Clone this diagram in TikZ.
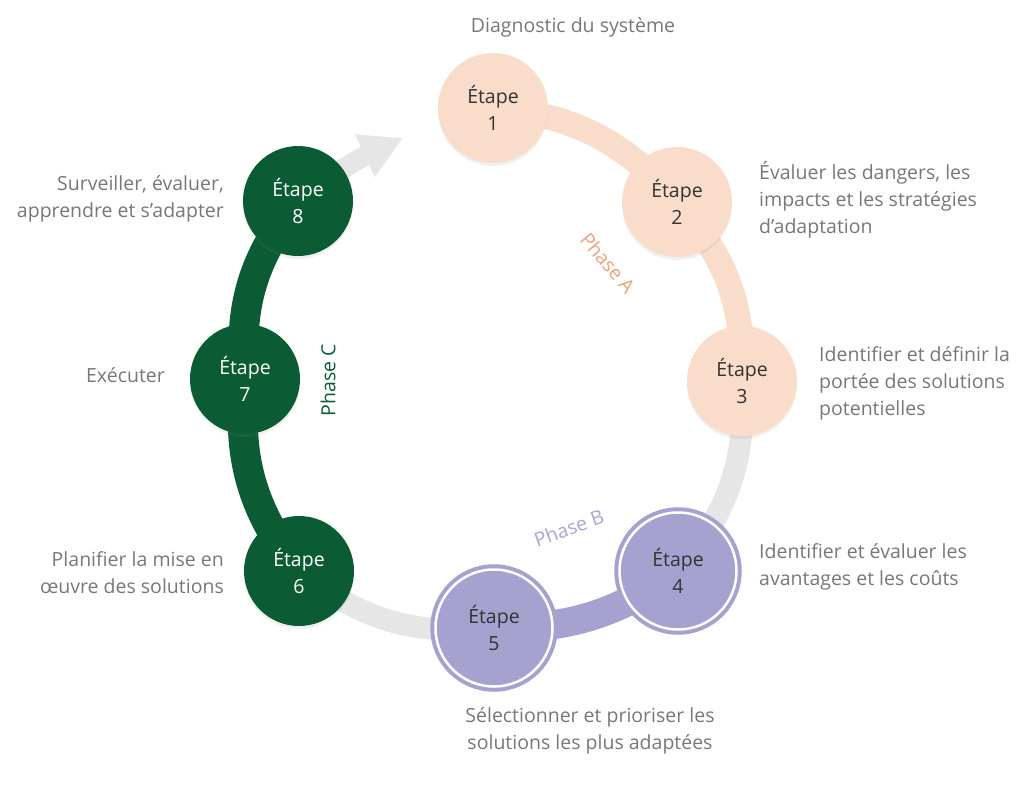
\documentclass[tikz,border=0pt]{standalone}
\usepackage{fontspec}
\setmainfont{Open Sans}
\usetikzlibrary{arrows.meta,shadows}
\pgfdeclarelayer{bg}
\pgfsetlayers{bg,main}
\definecolor{peach}{HTML}{FADCCB}
\definecolor{peachtxt}{HTML}{EBA27E}
\definecolor{greyband}{HTML}{E6E6E6}
\definecolor{lav}{HTML}{A5A2D0}
\definecolor{lavtxt}{HTML}{A9A6D2}
\definecolor{dkgreen}{HTML}{0B5C35}
\definecolor{lblgrey}{HTML}{777777}
\definecolor{nodetxt}{HTML}{333333}
\tikzset{
  stepfont/.style={font=\fontsize{19.5}{27}\selectfont},
  basenode/.style={circle, stepfont, align=center, inner sep=0pt,
    drop shadow={shadow xshift=0pt, shadow yshift=-3pt, opacity=0.12}},
  peachnode/.style={basenode, fill=peach, minimum size=110pt, text=nodetxt},
  greennode/.style={basenode, fill=dkgreen, minimum size=110pt, text=white},
  lavnode/.style={basenode, fill=lav, draw=lav, line width=4pt, double=white,
    double distance=2.5pt, minimum size=117pt, text=nodetxt},
  lbl/.style={stepfont, text=lblgrey, inner sep=0pt},
  phase/.style={stepfont, inner sep=0pt},
  peachband/.style={draw=peach, line width=25pt},
  greyband/.style={draw=greyband, line width=22pt},
  lavband/.style={draw=lav, line width=29pt},
  greenband/.style={draw=dkgreen, line width=30pt},
}
\begin{document}
\begin{tikzpicture}[x=1pt,y=-1pt]
\useasboundingbox (0,0) rectangle (1034,796);

% steps
\node[peachnode] (s1) at (493,108) {Étape\\1};
\node[peachnode] (s2) at (677,202) {Étape\\2};
\node[peachnode] (s3) at (742,381) {Étape\\3};
\node[lavnode]   (s4) at (678,571) {Étape\\4};
\node[lavnode]   (s5) at (494,628) {Étape\\5};
\node[greennode] (s6) at (299,571) {Étape\\6};
\node[greennode] (s7) at (245,379) {Étape\\7};
\node[greennode] (s8) at (298,201) {Étape\\8};
\coordinate (tip) at (403,138);

% bands
\begin{pgfonlayer}{bg}
\draw[peachband] (s1.center) to[bend left=22] (s2.center);
\draw[peachband] (s2.center) to[bend left=22] (s3.center);
\draw[greyband]  (s3.center) to[bend left=22] (s4.center);
\draw[lavband]   (s4.center) to[bend left=18] (s5.center);
\draw[greyband]  (s5.center) to[bend left=22] (s6.center);
\draw[greenband] (s6.center) to[bend left=22] (s7.center);
\draw[greenband] (s7.center) to[bend left=22] (s8.center);
\draw[greyband, line width=20pt, -{Triangle[length=42pt,width=44pt]}] (s8.center) to[bend left=6] (tip);
\end{pgfonlayer}

% phase labels
\node[phase, text=peachtxt, rotate=-50] (pa) at (608,263) {Phase A};
\node[phase, text=lavtxt, rotate=20] (pb) at (569,528) {Phase B};
\node[phase, text=dkgreen, rotate=90] (pc) at (328,380) {Phase C};

% descriptions
\node[lbl] (l1) at (573,27) {Diagnostic du système};
\node[lbl, anchor=west, align=left] (l2) at (759,200) {Évaluer les dangers, les\\impacts et les stratégies\\d’adaptation};
\node[lbl, anchor=west, align=left] (l3) at (819,383) {Identifier et définir la\\portée des solutions\\potentielles};
\node[lbl, anchor=west, align=left] (l4) at (759,567) {Identifier et évaluer les\\avantages et les coûts};
\node[lbl, align=center] (l5) at (590,731) {Sélectionner et prioriser les\\solutions les plus adaptées};
\node[lbl, anchor=east, align=right] (l6) at (224,573) {Planifier la mise en\\œuvre des solutions};
\node[lbl, anchor=east] (l7) at (165,375) {Exécuter};
\node[lbl, anchor=east, align=right] (l8) at (224,199) {Surveiller, évaluer,\\apprendre et s’adapter};
\end{tikzpicture}
\end{document}
